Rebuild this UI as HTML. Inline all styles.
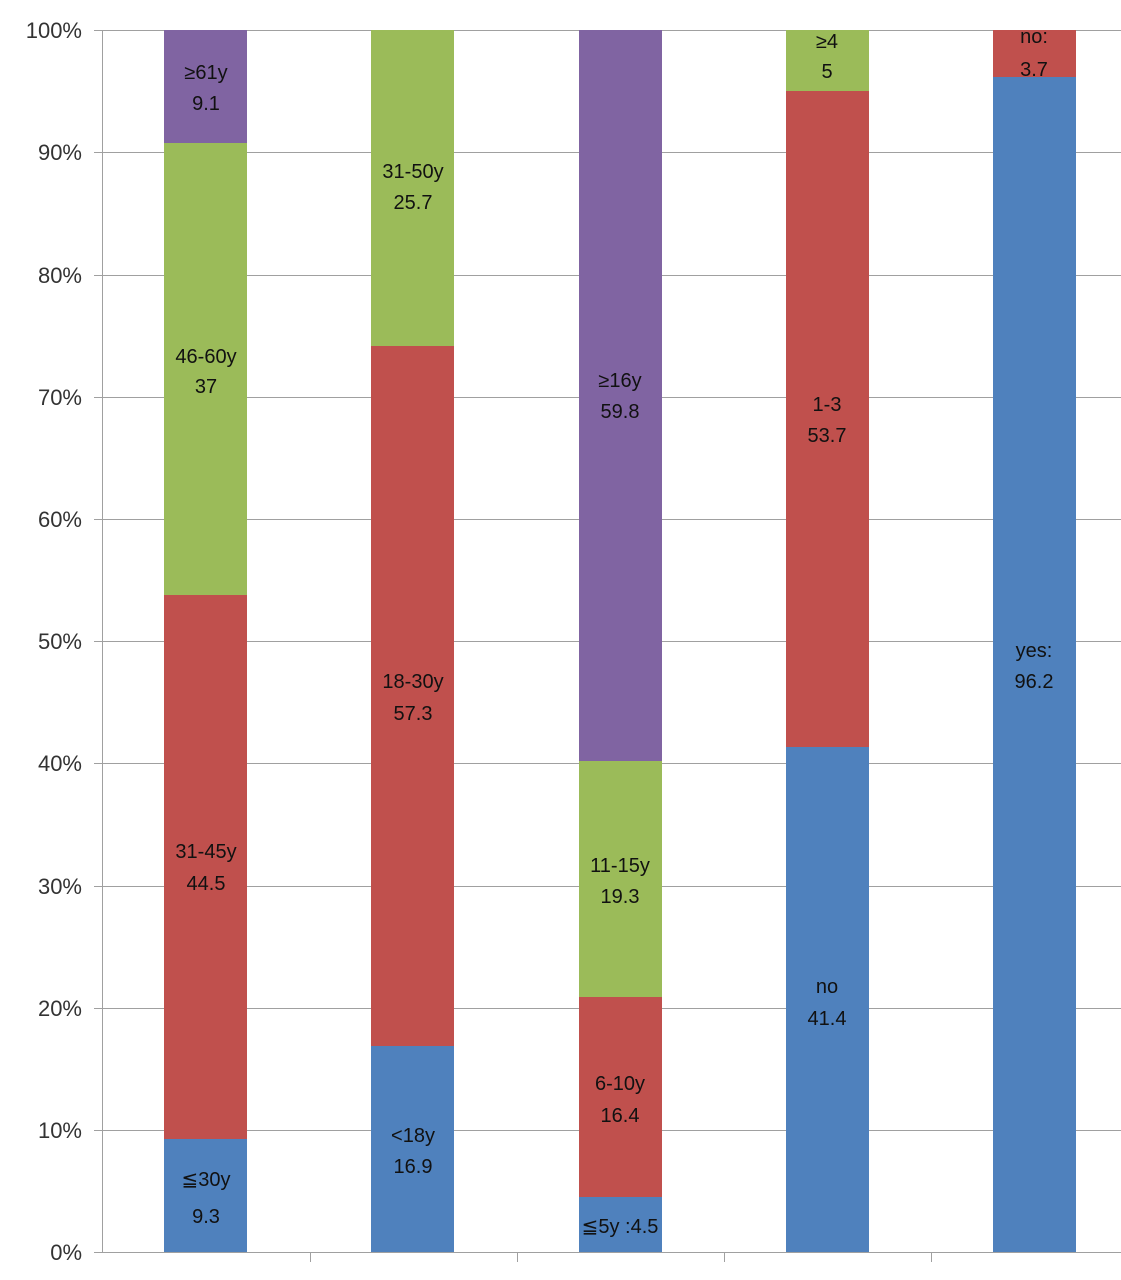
<!DOCTYPE html><html><head><style>
body{margin:0;background:#fff;width:1121px;height:1280px;overflow:hidden;position:relative;font-family:"Liberation Sans","DejaVu Sans",sans-serif}
.g{position:absolute;left:94px;width:1027px;height:1px;background:#a0a0a0}
.yl{position:absolute;left:0;width:82px;text-align:right;font-size:22px;color:#333;line-height:22px}
.b{position:absolute;width:83px}
.t{position:absolute;width:120px;text-align:center;font-size:20px;color:#111;line-height:20px}
</style></head><body>
<div style="position:absolute;left:102px;top:30px;width:1px;height:1222px;background:#a0a0a0"></div>
<div class="g" style="top:30px"></div><div class="g" style="top:152px"></div><div class="g" style="top:275px"></div><div class="g" style="top:397px"></div><div class="g" style="top:519px"></div><div class="g" style="top:641px"></div><div class="g" style="top:763px"></div><div class="g" style="top:886px"></div><div class="g" style="top:1008px"></div><div class="g" style="top:1130px"></div><div class="g" style="top:1252px"></div>
<div class="yl" style="top:20px">100%</div><div class="yl" style="top:142px">90%</div><div class="yl" style="top:265px">80%</div><div class="yl" style="top:387px">70%</div><div class="yl" style="top:509px">60%</div><div class="yl" style="top:631px">50%</div><div class="yl" style="top:753px">40%</div><div class="yl" style="top:876px">30%</div><div class="yl" style="top:998px">20%</div><div class="yl" style="top:1120px">10%</div><div class="yl" style="top:1242px">0%</div>
<div style="position:absolute;top:1252px;left:310px;width:1px;height:10px;background:#a0a0a0"></div>
<div style="position:absolute;top:1252px;left:517px;width:1px;height:10px;background:#a0a0a0"></div>
<div style="position:absolute;top:1252px;left:724px;width:1px;height:10px;background:#a0a0a0"></div>
<div style="position:absolute;top:1252px;left:931px;width:1px;height:10px;background:#a0a0a0"></div>
<div class="b" style="left:164px;top:30px;height:113px;background:#8064a2"></div>
<div class="b" style="left:164px;top:143px;height:452px;background:#9bbb59"></div>
<div class="b" style="left:164px;top:595px;height:544px;background:#c0504d"></div>
<div class="b" style="left:164px;top:1139px;height:113px;background:#4f81bd"></div>
<div class="b" style="left:371px;top:30px;height:316px;background:#9bbb59"></div>
<div class="b" style="left:371px;top:346px;height:700px;background:#c0504d"></div>
<div class="b" style="left:371px;top:1046px;height:206px;background:#4f81bd"></div>
<div class="b" style="left:579px;top:30px;height:731px;background:#8064a2"></div>
<div class="b" style="left:579px;top:761px;height:236px;background:#9bbb59"></div>
<div class="b" style="left:579px;top:997px;height:200px;background:#c0504d"></div>
<div class="b" style="left:579px;top:1197px;height:55px;background:#4f81bd"></div>
<div class="b" style="left:786px;top:30px;height:61px;background:#9bbb59"></div>
<div class="b" style="left:786px;top:91px;height:656px;background:#c0504d"></div>
<div class="b" style="left:786px;top:747px;height:505px;background:#4f81bd"></div>
<div class="b" style="left:993px;top:30px;height:47px;background:#c0504d"></div>
<div class="b" style="left:993px;top:77px;height:1175px;background:#4f81bd"></div>
<div class="t" style="left:146px;top:63px">≥61y</div><div class="t" style="left:146px;top:94px">9.1</div>
<div class="t" style="left:146px;top:347px">46-60y</div><div class="t" style="left:146px;top:377px">37</div>
<div class="t" style="left:146px;top:842px">31-45y</div><div class="t" style="left:146px;top:874px">44.5</div>
<div class="t" style="left:146px;top:1170px">≦30y</div><div class="t" style="left:146px;top:1207px">9.3</div>
<div class="t" style="left:353px;top:162px">31-50y</div><div class="t" style="left:353px;top:193px">25.7</div>
<div class="t" style="left:353px;top:672px">18-30y</div><div class="t" style="left:353px;top:704px">57.3</div>
<div class="t" style="left:353px;top:1126px">&lt;18y</div><div class="t" style="left:353px;top:1157px">16.9</div>
<div class="t" style="left:560px;top:371px">≥16y</div><div class="t" style="left:560px;top:402px">59.8</div>
<div class="t" style="left:560px;top:856px">11-15y</div><div class="t" style="left:560px;top:887px">19.3</div>
<div class="t" style="left:560px;top:1074px">6-10y</div><div class="t" style="left:560px;top:1106px">16.4</div>
<div class="t" style="left:560px;top:1217px">≦5y :4.5</div>
<div class="t" style="left:767px;top:32px">≥4</div><div class="t" style="left:767px;top:62px">5</div>
<div class="t" style="left:767px;top:395px">1-3</div><div class="t" style="left:767px;top:426px">53.7</div>
<div class="t" style="left:767px;top:977px">no</div><div class="t" style="left:767px;top:1009px">41.4</div>
<div class="t" style="left:974px;top:27px">no:</div><div class="t" style="left:974px;top:60px">3.7</div>
<div class="t" style="left:974px;top:641px">yes:</div><div class="t" style="left:974px;top:672px">96.2</div>
</body></html>
